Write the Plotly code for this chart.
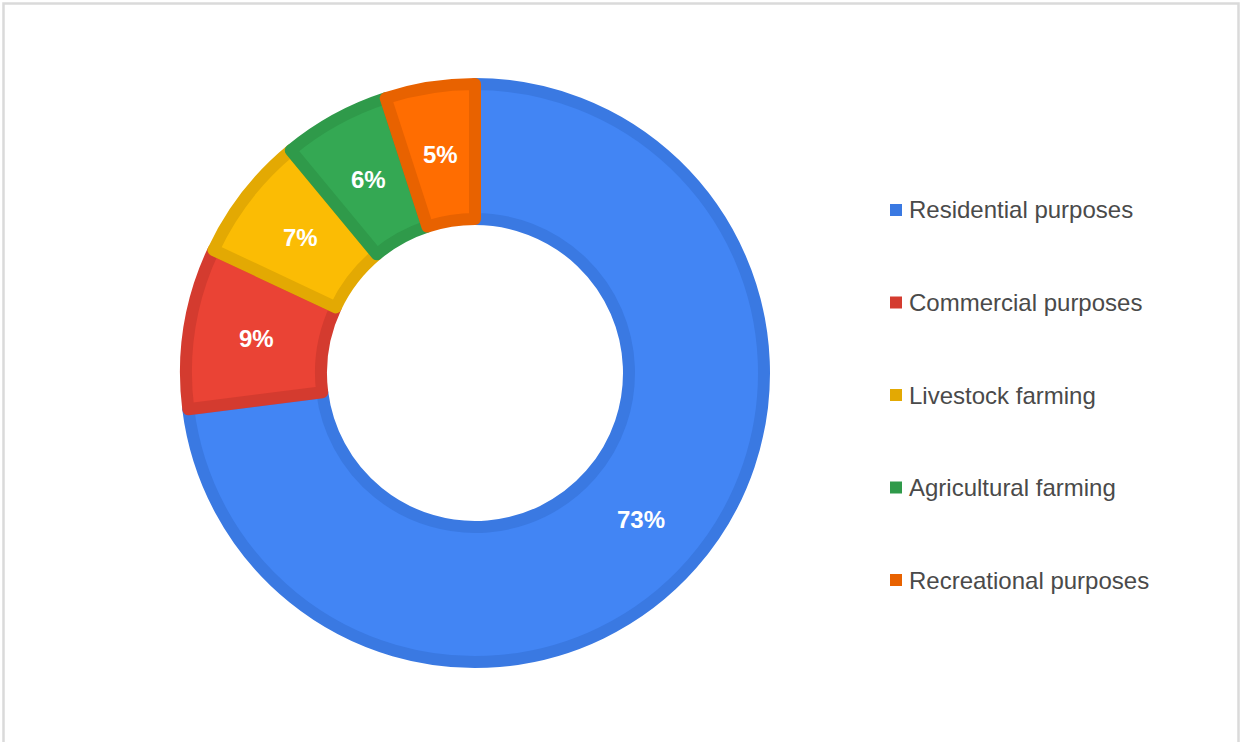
import math
import plotly.graph_objects as go

# Land use shares
categories = ["Residential purposes", "Commercial purposes", "Livestock farming",
              "Agricultural farming", "Recreational purposes"]
shares = [73, 9, 7, 6, 5]

fill_colors = ["#4285f4", "#ea4335", "#fbbc04", "#34a853", "#ff6d01"]
edge_colors = ["#3a79e2", "#d43b2f", "#e3a903", "#2f9a4a", "#e86200"]

W, H = 1242, 742
cx, cy = 475, 373          # donut centre (px, from top-left)
r = 289                    # radius to the centre of the slice outline
outline = 12
label_r = 221              # radius at which percentage labels sit

fig = go.Figure(go.Pie(
    labels=categories,
    values=shares,
    sort=False,
    direction="clockwise",
    rotation=0,
    hole=154 / r,
    marker=dict(colors=fill_colors, line=dict(color=edge_colors, width=outline)),
    textinfo="none",
    showlegend=False,
    hoverinfo="label+percent",
    domain=dict(x=[(cx - r) / W, (cx + r) / W],
                y=[(H - cy - r) / H, (H - cy + r) / H]),
))

shapes = [dict(type="rect", xref="paper", yref="paper",
               x0=3.5 / W, x1=(W - 3.5) / W, y0=-0.05, y1=1 - 3.5 / H,
               line=dict(color="#dadada", width=2.5), fillcolor="rgba(0,0,0,0)")]
annotations = []

# Percentage labels centred in the ring at each slice's mid-angle
total = sum(shares)
start = 0.0
for v in shares:
    mid = (start + v / 2) / total * 2 * math.pi
    start += v
    px = cx + label_r * math.sin(mid)
    py = cy - label_r * math.cos(mid)
    annotations.append(dict(xref="paper", yref="paper", x=px / W, y=1 - py / H,
                            xanchor="center", yanchor="middle", showarrow=False,
                            text=f"{round(v / total * 100)}%",
                            font=dict(family="Liberation Sans, Arial, sans-serif",
                                      size=24, color="white", weight="bold")))

# Legend on the right: colour square plus label per category
legend_top, legend_step = 210, 92.5
for i, (name, col) in enumerate(zip(categories, edge_colors)):
    yc = legend_top + i * legend_step
    shapes.append(dict(type="rect", xref="paper", yref="paper",
                       x0=890 / W, x1=902 / W,
                       y0=1 - (yc + 6) / H, y1=1 - (yc - 6) / H,
                       line=dict(width=0), fillcolor=col))
    annotations.append(dict(xref="paper", yref="paper", x=907 / W, y=1 - yc / H,
                            xanchor="left", yanchor="middle", showarrow=False,
                            text=name,
                            font=dict(family="Liberation Sans, Arial, sans-serif",
                                      size=24, color="#4a4a4a")))

fig.update_layout(
    width=W, height=H,
    margin=dict(l=0, r=0, t=0, b=0),
    paper_bgcolor="white",
    plot_bgcolor="white",
    shapes=shapes,
    annotations=annotations,
)

fig.write_html("out.html")
